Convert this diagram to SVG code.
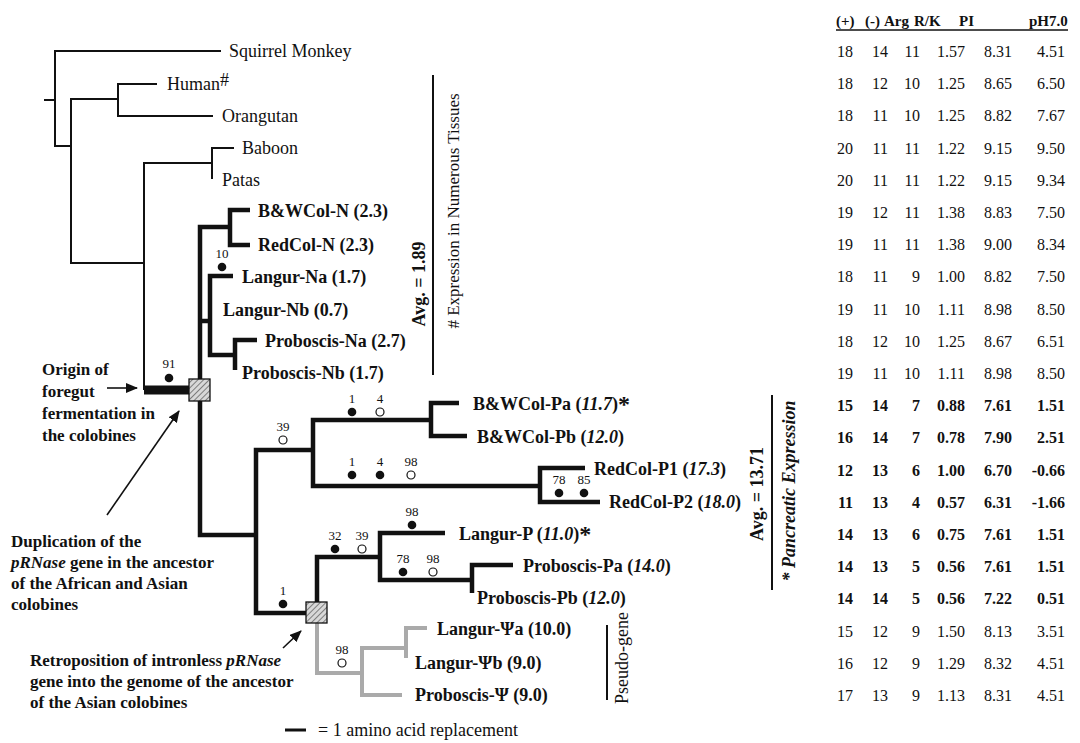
<svg xmlns="http://www.w3.org/2000/svg" width="1080" height="743" viewBox="0 0 1080 743">
<defs>
<style>
text{font-family:"Liberation Serif","Times New Roman",serif;fill:#111}
.lb{font-size:18px}
.b{font-weight:bold}
.i{font-style:italic}
.an{font-size:17px;font-weight:bold}
.num{font-size:13px;text-anchor:middle}
.t{font-size:16px;text-anchor:end}
.th{font-size:15px;font-weight:bold}
.thin{stroke:#111;stroke-width:2;fill:none}
.thick{stroke:#111;stroke-width:4.5;fill:none}
.gray{stroke:#aaa;stroke-width:4;fill:none}
.dot{fill:#111}
.odot{fill:#fff;stroke:#111;stroke-width:1.2}
.arr{stroke:#111;stroke-width:1.6;fill:none;marker-end:url(#ah)}
.sq{fill:url(#hatch);stroke:#111;stroke-width:1.3}
</style>
<pattern id="hatch" patternUnits="userSpaceOnUse" width="4" height="4" patternTransform="rotate(45)">
<rect width="4" height="4" fill="#d8d8d8"/>
<line x1="0" y1="0" x2="0" y2="4" stroke="#666" stroke-width="1.6"/>
</pattern>
<marker id="ah" markerUnits="userSpaceOnUse" markerWidth="12" markerHeight="10" refX="11" refY="5" orient="auto">
<path d="M0,0 L12,5 L0,10 Z" fill="#111"/>
</marker>
</defs>
<rect width="1080" height="743" fill="#fff"/>

<g id="connectors">
<path class="thin" d="M44 100 H55"/>
<path class="thin" d="M221 51 H55 V146 H71"/>
<path class="thin" d="M157 84 H118 V116 H213"/>
<path class="thin" d="M118 99 H71 V263 H144"/>
<path class="thin" d="M234 148 H212 V179"/>
<path class="thin" d="M212 163 H144 V390"/>
<path d="M144 390 H190" stroke="#111" stroke-width="9" fill="none"/>
<path class="thick" d="M250 210 H230 V245 H250"/>
<path class="thick" d="M230 227 H200 V380"/>
<path class="thick" d="M233 276 H210 V355 H235"/>
<path class="thick" d="M200 321 H210"/>
<path class="thick" d="M257 340 H235 V370"/>
<path class="thick" d="M200 400 V535 H256"/>
<path class="thick" d="M313 450 H256 V613 H307"/>
<path class="thick" d="M459 403 H431 V436 H467"/>
<path class="thick" d="M431 420 H313 V486 H540"/>
<path class="thick" d="M585 468 H540 V502 H600"/>
<path class="thick" d="M317 603 V557 H380"/>
<path class="thick" d="M445 533 H380 V580 H472"/>
<path class="thick" d="M513 565 H472 V593"/>
<path class="gray" d="M317 623 V673 H362"/>
<path class="gray" d="M406 648 H362 V695 H402"/>
<path class="gray" d="M427 628 H406 V658"/>
<path class="arr" d="M107 388 H137"/>
<path class="arr" d="M107 515 L179 411"/>
<path class="arr" d="M283 648 L301 631"/>
</g>

<g id="events">
<rect id="dup-square" class="sq" x="189" y="379" width="21" height="22"/>
<rect id="retro-square" class="sq" x="306" y="602" width="21" height="21"/>
</g>

<g id="markers">
<circle class="dot" cx="169" cy="378" r="4.3"/><text class="num" x="169" y="368">91</text>
<circle class="dot" cx="222" cy="267" r="4.3"/><text class="num" x="222" y="258">10</text>
<circle class="odot" cx="283" cy="440" r="4"/><text class="num" x="283" y="431">39</text>
<circle class="dot" cx="352" cy="412" r="4.3"/><text class="num" x="352" y="403">1</text>
<circle class="odot" cx="380" cy="412" r="4"/><text class="num" x="380" y="403">4</text>
<circle class="dot" cx="352" cy="475" r="4.3"/><text class="num" x="352" y="466">1</text>
<circle class="dot" cx="380" cy="475" r="4.3"/><text class="num" x="380" y="466">4</text>
<circle class="odot" cx="411" cy="475" r="4"/><text class="num" x="411" y="466">98</text>
<circle class="dot" cx="559" cy="493" r="4.3"/><text class="num" x="559" y="484">78</text>
<circle class="dot" cx="584" cy="493" r="4.3"/><text class="num" x="584" y="484">85</text>
<circle class="dot" cx="283" cy="604" r="4.3"/><text class="num" x="283" y="595">1</text>
<circle class="dot" cx="335" cy="549" r="4.3"/><text class="num" x="335" y="540">32</text>
<circle class="odot" cx="362" cy="549" r="4"/><text class="num" x="362" y="540">39</text>
<circle class="dot" cx="412" cy="525" r="4.3"/><text class="num" x="412" y="516">98</text>
<circle class="dot" cx="403" cy="572" r="4.3"/><text class="num" x="403" y="563">78</text>
<circle class="odot" cx="433" cy="572" r="4"/><text class="num" x="433" y="563">98</text>
<circle class="odot" cx="342" cy="663" r="4"/><text class="num" x="342" y="654">98</text>
</g>

<g id="leaf-squirrel"><text class="lb" x="229" y="57">Squirrel Monkey</text></g>
<g id="leaf-human"><text class="lb" x="167" y="90">Human<tspan dy="-4">#</tspan></text></g>
<g id="leaf-orangutan"><text class="lb" x="222" y="122">Orangutan</text></g>
<g id="leaf-baboon"><text class="lb" x="242" y="154">Baboon</text></g>
<g id="leaf-patas"><text class="lb" x="222" y="186">Patas</text></g>
<g id="leaf-bwcol-n"><text class="lb b" x="258" y="217">B&amp;WCol-N (2.3)</text></g>
<g id="leaf-redcol-n"><text class="lb b" x="258" y="251">RedCol-N (2.3)</text></g>
<g id="leaf-langur-na"><text class="lb b" x="242" y="283">Langur-Na (1.7)</text></g>
<g id="leaf-langur-nb"><text class="lb b" x="223" y="316">Langur-Nb (0.7)</text></g>
<g id="leaf-proboscis-na"><text class="lb b" x="265" y="347">Proboscis-Na (2.7)</text></g>
<g id="leaf-proboscis-nb"><text class="lb b" x="242" y="379">Proboscis-Nb (1.7)</text></g>
<g id="leaf-bwcol-pa"><text class="lb b" x="473" y="410">B&amp;WCol-Pa (<tspan class="i">11.7</tspan>)<tspan font-size="24" dy="2">*</tspan></text></g>
<g id="leaf-bwcol-pb"><text class="lb b" x="477" y="443">B&amp;WCol-Pb (<tspan class="i">12.0</tspan>)</text></g>
<g id="leaf-redcol-p1"><text class="lb b" x="594" y="475">RedCol-P1 (<tspan class="i">17.3</tspan>)</text></g>
<g id="leaf-redcol-p2"><text class="lb b" x="609" y="508">RedCol-P2 (<tspan class="i">18.0</tspan>)</text></g>
<g id="leaf-langur-p"><text class="lb b" x="459" y="540">Langur-P (<tspan class="i">11.0</tspan>)<tspan font-size="24" dy="2">*</tspan></text></g>
<g id="leaf-proboscis-pa"><text class="lb b" x="523" y="572">Proboscis-Pa (<tspan class="i">14.0</tspan>)</text></g>
<g id="leaf-proboscis-pb"><text class="lb b" x="477" y="604">Proboscis-Pb (<tspan class="i">12.0</tspan>)</text></g>
<g id="leaf-langur-psia"><text class="lb b" x="437" y="635">Langur-Ψa (10.0)</text></g>
<g id="leaf-langur-psib"><text class="lb b" x="415" y="669">Langur-Ψb (9.0)</text></g>
<g id="leaf-proboscis-psi"><text class="lb b" x="415" y="701">Proboscis-Ψ (9.0)</text></g>

<g id="note-foregut">
<text class="an" x="42" y="375">Origin of</text>
<text class="an" x="42" y="397">foregut</text>
<text class="an" x="42" y="419">fermentation in</text>
<text class="an" x="42" y="441">the colobines</text>
</g>
<g id="note-duplication">
<text class="an" x="11" y="547">Duplication of the</text>
<text class="an" x="11" y="568"><tspan class="i">pRNase</tspan> gene in the ancestor</text>
<text class="an" x="11" y="589">of the African and Asian</text>
<text class="an" x="11" y="610">colobines</text>
</g>
<g id="note-retroposition">
<text class="an" x="30" y="666">Retroposition of intronless <tspan class="i">pRNase</tspan></text>
<text class="an" x="30" y="687">gene into the genome of the ancestor</text>
<text class="an" x="30" y="708">of the Asian colobines</text>
</g>

<g id="bracket-n">
<line x1="433" y1="75" x2="433" y2="375" stroke="#111" stroke-width="2"/>
<text class="lb b" text-anchor="middle" transform="translate(425,284) rotate(-90)">Avg. = 1.89</text>
<text text-anchor="middle" font-size="17" transform="translate(459,211) rotate(-90)"># Expression in Numerous Tissues</text>
</g>
<g id="bracket-p">
<line x1="772" y1="395" x2="772" y2="590" stroke="#111" stroke-width="2"/>
<text class="lb b" text-anchor="middle" transform="translate(763,494) rotate(-90)">Avg. = 13.71</text>
<text class="lb b i" text-anchor="middle" transform="translate(795,491) rotate(-90)">* Pancreatic Expression</text>
</g>
<g id="bracket-pseudo">
<line x1="607" y1="625" x2="607" y2="700" stroke="#111" stroke-width="2"/>
<text class="lb" text-anchor="middle" transform="translate(628,658) rotate(-90)">Pseudo-gene</text>
</g>

<g id="legend">
<line x1="285" y1="730" x2="306" y2="730" stroke="#111" stroke-width="3"/>
<text class="lb" x="318" y="736">= 1 amino acid replacement</text>
</g>

<g id="table">
<text class="th" x="836" y="26">(+)</text>
<text class="th" x="865" y="26">(-)</text>
<text class="th" x="884" y="26">Arg</text>
<text class="th" x="914" y="26">R/K</text>
<text class="th" x="959" y="26">PI</text>
<text class="th" x="1029" y="26">pH7.0</text>
<line x1="836" y1="30" x2="1068" y2="30" stroke="#111" stroke-width="1.3"/>
<g class="rows">
<text class="t" y="57"><tspan x="853">18</tspan><tspan x="888">14</tspan><tspan x="920">11</tspan><tspan x="965">1.57</tspan><tspan x="1012">8.31</tspan><tspan x="1065">4.51</tspan></text>
<text class="t" y="89"><tspan x="853">18</tspan><tspan x="888">12</tspan><tspan x="920">10</tspan><tspan x="965">1.25</tspan><tspan x="1012">8.65</tspan><tspan x="1065">6.50</tspan></text>
<text class="t" y="121"><tspan x="853">18</tspan><tspan x="888">11</tspan><tspan x="920">10</tspan><tspan x="965">1.25</tspan><tspan x="1012">8.82</tspan><tspan x="1065">7.67</tspan></text>
<text class="t" y="154"><tspan x="853">20</tspan><tspan x="888">11</tspan><tspan x="920">11</tspan><tspan x="965">1.22</tspan><tspan x="1012">9.15</tspan><tspan x="1065">9.50</tspan></text>
<text class="t" y="186"><tspan x="853">20</tspan><tspan x="888">11</tspan><tspan x="920">11</tspan><tspan x="965">1.22</tspan><tspan x="1012">9.15</tspan><tspan x="1065">9.34</tspan></text>
<text class="t" y="218"><tspan x="853">19</tspan><tspan x="888">12</tspan><tspan x="920">11</tspan><tspan x="965">1.38</tspan><tspan x="1012">8.83</tspan><tspan x="1065">7.50</tspan></text>
<text class="t" y="250"><tspan x="853">19</tspan><tspan x="888">11</tspan><tspan x="920">11</tspan><tspan x="965">1.38</tspan><tspan x="1012">9.00</tspan><tspan x="1065">8.34</tspan></text>
<text class="t" y="282"><tspan x="853">18</tspan><tspan x="888">11</tspan><tspan x="920">9</tspan><tspan x="965">1.00</tspan><tspan x="1012">8.82</tspan><tspan x="1065">7.50</tspan></text>
<text class="t" y="315"><tspan x="853">19</tspan><tspan x="888">11</tspan><tspan x="920">10</tspan><tspan x="965">1.11</tspan><tspan x="1012">8.98</tspan><tspan x="1065">8.50</tspan></text>
<text class="t" y="347"><tspan x="853">18</tspan><tspan x="888">12</tspan><tspan x="920">10</tspan><tspan x="965">1.25</tspan><tspan x="1012">8.67</tspan><tspan x="1065">6.51</tspan></text>
<text class="t" y="379"><tspan x="853">19</tspan><tspan x="888">11</tspan><tspan x="920">10</tspan><tspan x="965">1.11</tspan><tspan x="1012">8.98</tspan><tspan x="1065">8.50</tspan></text>
<text class="t b" y="411"><tspan x="853">15</tspan><tspan x="888">14</tspan><tspan x="920">7</tspan><tspan x="965">0.88</tspan><tspan x="1012">7.61</tspan><tspan x="1065">1.51</tspan></text>
<text class="t b" y="443"><tspan x="853">16</tspan><tspan x="888">14</tspan><tspan x="920">7</tspan><tspan x="965">0.78</tspan><tspan x="1012">7.90</tspan><tspan x="1065">2.51</tspan></text>
<text class="t b" y="476"><tspan x="853">12</tspan><tspan x="888">13</tspan><tspan x="920">6</tspan><tspan x="965">1.00</tspan><tspan x="1012">6.70</tspan><tspan x="1065">-0.66</tspan></text>
<text class="t b" y="508"><tspan x="853">11</tspan><tspan x="888">13</tspan><tspan x="920">4</tspan><tspan x="965">0.57</tspan><tspan x="1012">6.31</tspan><tspan x="1065">-1.66</tspan></text>
<text class="t b" y="540"><tspan x="853">14</tspan><tspan x="888">13</tspan><tspan x="920">6</tspan><tspan x="965">0.75</tspan><tspan x="1012">7.61</tspan><tspan x="1065">1.51</tspan></text>
<text class="t b" y="572"><tspan x="853">14</tspan><tspan x="888">13</tspan><tspan x="920">5</tspan><tspan x="965">0.56</tspan><tspan x="1012">7.61</tspan><tspan x="1065">1.51</tspan></text>
<text class="t b" y="604"><tspan x="853">14</tspan><tspan x="888">14</tspan><tspan x="920">5</tspan><tspan x="965">0.56</tspan><tspan x="1012">7.22</tspan><tspan x="1065">0.51</tspan></text>
<text class="t" y="637"><tspan x="853">15</tspan><tspan x="888">12</tspan><tspan x="920">9</tspan><tspan x="965">1.50</tspan><tspan x="1012">8.13</tspan><tspan x="1065">3.51</tspan></text>
<text class="t" y="669"><tspan x="853">16</tspan><tspan x="888">12</tspan><tspan x="920">9</tspan><tspan x="965">1.29</tspan><tspan x="1012">8.32</tspan><tspan x="1065">4.51</tspan></text>
<text class="t" y="701"><tspan x="853">17</tspan><tspan x="888">13</tspan><tspan x="920">9</tspan><tspan x="965">1.13</tspan><tspan x="1012">8.31</tspan><tspan x="1065">4.51</tspan></text>
</g>
</g>
</svg>
